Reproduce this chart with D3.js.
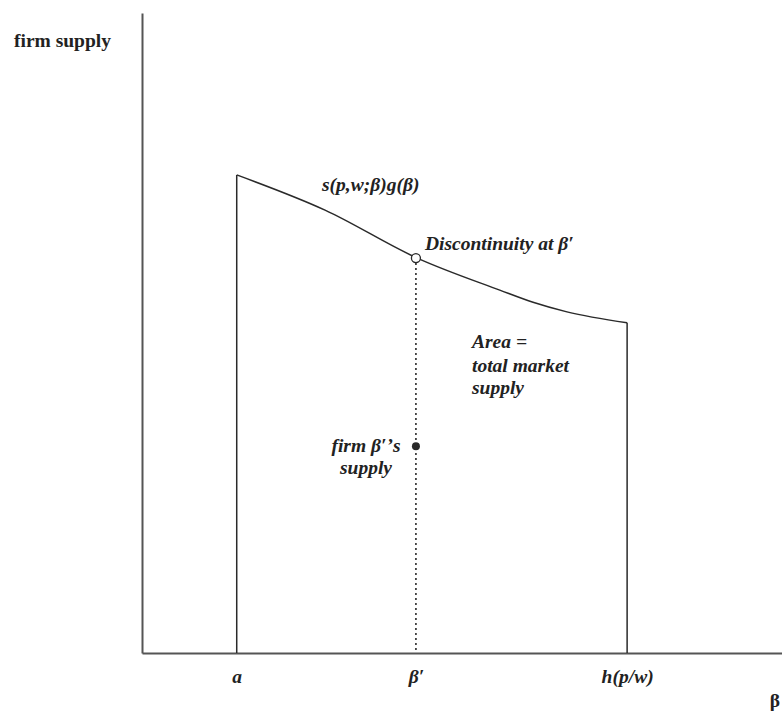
<!DOCTYPE html>
<html>
<head>
<meta charset="utf-8">
<script src="https://cdn.jsdelivr.net/npm/d3@7"></script>
<style>
  html, body { margin: 0; padding: 0; background: #fff; }
  svg { display: block; }
  text { font-family: "Liberation Serif", "Times New Roman", serif; fill: #222; }
</style>
</head>
<body>
<svg id="chart" width="782" height="714"></svg>
<script>
// ---- data ----
const betaTicks = [1.48, 4.28, 7.58];           // a, beta', h(p/w)
const betaTickLabels = ["a", "\u03b2\u2032", "h(p/w)"];
const curveBeta = [1.48, 2.86, 4.30, 5.59, 6.11, 6.64, 7.58];
const curveSupply = [7.47, 6.92, 6.17, 5.67, 5.48, 5.33, 5.16];
const discontinuityBeta = [4.28];
const discontinuitySupply = [6.17];
const firmPointBeta = [4.28];
const firmPointSupply = [3.23];

// ---- setup ----
const svg = d3.select("#chart");
const x = d3.scaleLinear().domain([0, 10]).range([142, 782]);
const y = d3.scaleLinear().domain([0, 10]).range([653, 13]);
const ink = "#2a2a2a";
const FS = 19.5;

// axes
const xAxis = d3.axisBottom(x)
  .tickValues(betaTicks)
  .tickFormat((d, i) => betaTickLabels[i])
  .tickSize(0).tickSizeOuter(0).tickPadding(16);
const gx = svg.append("g").attr("transform", `translate(0,${y(0)})`).call(xAxis);
gx.select(".domain").attr("stroke", "#555").attr("stroke-width", 2);
gx.selectAll("text")
  .style("font-family", "'Liberation Serif', serif")
  .style("font-size", FS + "px").style("font-weight", "bold").style("font-style", "italic")
  .attr("fill", ink);

const yAxis = d3.axisLeft(y).tickValues([]).tickSize(0).tickSizeOuter(0);
const gy = svg.append("g").attr("transform", `translate(${x(0)},0)`).call(yAxis);
gy.select(".domain").attr("stroke", "#555").attr("stroke-width", 2);

// area outline: left edge, curve, right edge
const n = curveBeta.length;
svg.append("line")
  .attr("x1", x(curveBeta[0])).attr("x2", x(curveBeta[0]))
  .attr("y1", y(0)).attr("y2", y(curveSupply[0]))
  .attr("stroke", ink).attr("stroke-width", 1.5);
svg.append("line")
  .attr("x1", x(curveBeta[n - 1])).attr("x2", x(curveBeta[n - 1]))
  .attr("y1", y(0)).attr("y2", y(curveSupply[n - 1]))
  .attr("stroke", ink).attr("stroke-width", 1.5);

const line = d3.line()
  .x((d, i) => x(curveBeta[i]))
  .y((d, i) => y(curveSupply[i]))
  .curve(d3.curveMonotoneX);
svg.append("path")
  .datum(curveBeta)
  .attr("d", line)
  .attr("fill", "none").attr("stroke", ink).attr("stroke-width", 1.5);

// dotted vertical line at beta'
svg.append("line")
  .attr("x1", x(discontinuityBeta[0])).attr("x2", x(discontinuityBeta[0]))
  .attr("y1", y(discontinuitySupply[0]) + 5).attr("y2", y(0))
  .attr("stroke", ink).attr("stroke-width", 1.6)
  .attr("stroke-dasharray", "2,3");

// open circle (discontinuity)
svg.append("circle")
  .attr("cx", x(discontinuityBeta[0])).attr("cy", y(discontinuitySupply[0]))
  .attr("r", 4.5).attr("fill", "#fff").attr("stroke", ink).attr("stroke-width", 1.3);

// filled dot (firm beta' supply)
svg.append("circle")
  .attr("cx", x(firmPointBeta[0])).attr("cy", y(firmPointSupply[0]))
  .attr("r", 4).attr("fill", ink);

// labels
function label(txt, px, py, opts = {}) {
  return svg.append("text")
    .attr("x", px).attr("y", py)
    .attr("text-anchor", opts.anchor || "start")
    .style("font-size", (opts.size || FS) + "px")
    .style("font-weight", "bold")
    .style("font-style", opts.italic === false ? "normal" : "italic")
    .text(txt);
}
label("firm supply", 14, 47, { italic: false, size: 19.5 });
label("s(p,w;\u03b2)g(\u03b2)", 322, 191);
label("Discontinuity at \u03b2\u2032", 425, 250);
label("Area =", 472, 348);
label("total market", 472, 372);
label("supply", 472, 394);
label("firm \u03b2\u2032\u2019s", 366, 452, { anchor: "middle" });
label("supply", 366, 474, { anchor: "middle" });
label("\u03b2", 775, 707, { italic: false, anchor: "middle" });
</script>
</body>
</html>
